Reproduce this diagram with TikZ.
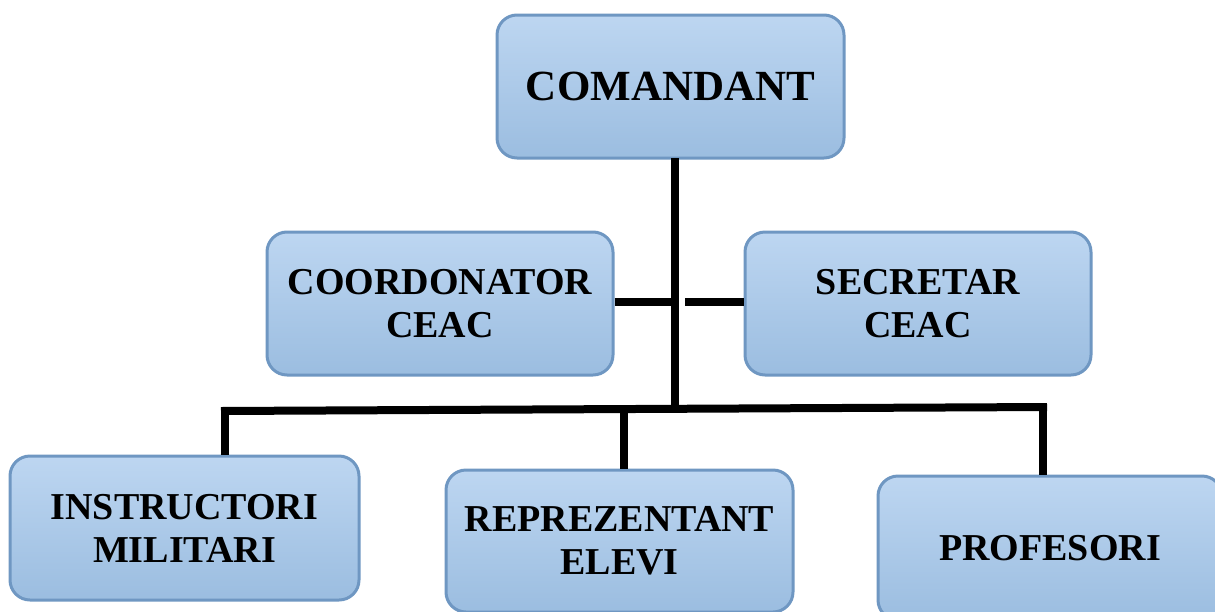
\documentclass[tikz,border=0pt]{standalone}
\usepackage{fontspec}
\setmainfont{Liberation Serif}
\begin{document}
\begin{tikzpicture}[x=0.5pt,y=-0.5pt,
  box/.style={draw=boxline, line width=1.5pt, rounded corners=10pt,
    top color=boxtop, bottom color=boxbot, align=center,
    font=\fontsize{19}{21.5}\selectfont\bfseries, inner sep=0pt},
  conn/.style={line width=4pt, draw=black}]
\definecolor{boxtop}{HTML}{BDD6F1}
\definecolor{boxbot}{HTML}{9BBDE0}
\definecolor{boxline}{HTML}{6F97C2}
\useasboundingbox (0,0) rectangle (1215,611);
\clip (0,0) rectangle (1215,611);
\node[box, minimum width=173.5pt, minimum height=71.5pt, font=\fontsize{21.5}{24}\selectfont\bfseries] (com) at (670.5,86.5) {COMANDANT};
\node[box, minimum width=173pt, minimum height=71.5pt] (coord) at (440,303.5) {COORDONATOR\\CEAC};
\node[box, minimum width=173pt, minimum height=71.5pt] (sec) at (918,303.5) {SECRETAR\\CEAC};
\node[box, minimum width=174.5pt, minimum height=72pt] (instr) at (184.5,528) {INSTRUCTORI\\MILITARI};
\node[box, minimum width=173.5pt, minimum height=71pt] (rep) at (619.5,541) {REPREZENTANT\\ELEVI};
\node[box, minimum width=172pt, minimum height=72pt] (prof) at (1050,548) {PROFESORI};
\coordinate (vtop) at (675,158);
\coordinate (vbot) at (675,409);
\coordinate (barL) at (221,411);
\coordinate (barR) at (1047,407);
\coordinate (dL) at (225,411);
\coordinate (dM) at (624,409);
\coordinate (dR) at (1043,407);
\coordinate (sideL) at (671,302);
\coordinate (sideR) at (685,302);
\draw[conn] (vtop) -- (vbot);
\draw[conn] (barL) -- (barR);
\draw[conn] (dL) -- (dL |- instr.north);
\draw[conn] (dM) -- (dM |- rep.north);
\draw[conn] (dR) -- (dR |- prof.north);
\draw[conn] (coord.east |- sideL) -- (sideL);
\draw[conn] (sideR) -- (sideR -| sec.west);
\end{tikzpicture}
\end{document}
